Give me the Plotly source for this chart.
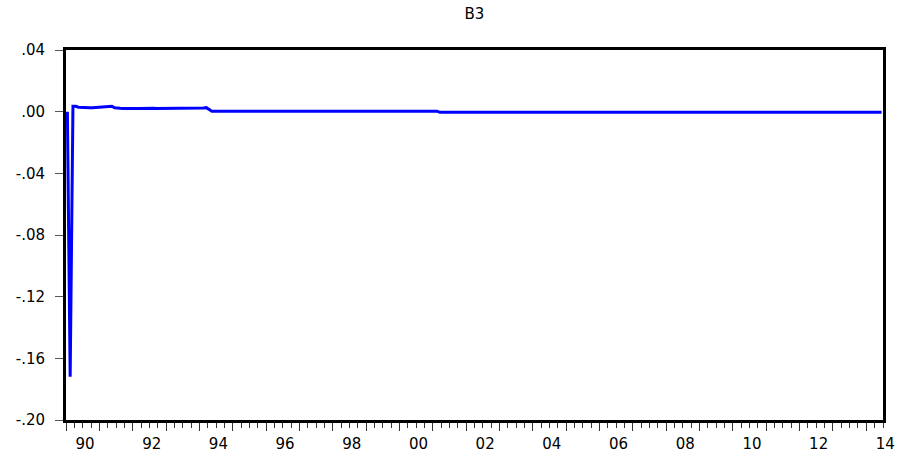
import plotly.graph_objects as go

# Monthly series B3, 1990M01 .. 2014M06
start_year = 1990
head_values = [0.0, -0.172, 0.0035, 0.0035, 0.0029, 0.0027, 0.0026, 0.0027, 0.0026,
               0.0026, 0.0027, 0.0027, 0.0028, 0.0030, 0.0033, 0.0036, 0.0035, 0.0025,
               0.0022]
mid_values = [0.0022, 0.0021, 0.0022, 0.0021, 0.0021, 0.0022, 0.0021, 0.0021, 0.0022,
              0.0021, 0.0021, 0.0021, 0.0022, 0.0021, 0.0021, 0.0021, 0.0022, 0.0021,
              0.0021, 0.0021, 0.0021, 0.0022, 0.0021, 0.0021, 0.0021, 0.0021, 0.0021,
              0.0022, 0.0021, 0.0021, 0.0024, 0.0026, 0.0014]
flat_values = [0.0003] * 82
tail_values = [-0.0004] * 160
values = head_values + mid_values + flat_values + tail_values
dates = [start_year + (i + 0.5) / 12 for i in range(len(values))]

x_tickvals = list(range(1990, 2015))
x_ticktext = [f"{y % 100:02d}" if y % 2 == 0 else "" for y in x_tickvals]
y_tickvals = [0.04, 0.0, -0.04, -0.08, -0.12, -0.16, -0.20]
y_ticktext = [".04", ".00", "-.04", "-.08", "-.12", "-.16", "-.20"]

fig = go.Figure()
fig.add_trace(go.Scatter(x=dates, y=values, mode="lines",
                         line=dict(color="#0000FF", width=3), showlegend=False))

fam = "DejaVu Sans, Liberation Sans, Arial, sans-serif"
font = dict(family=fam, size=15, color="black")
fig.update_layout(
    width=906, height=456,
    margin=dict(l=66, r=23, t=50, b=36, autoexpand=False),
    paper_bgcolor="white", plot_bgcolor="white",
    font=font,
    title=dict(text="B3", x=0.5, xref="paper", y=1 - 14 / 456, yanchor="middle",
               xanchor="center", font=dict(size=15, color="black", family=fam)),
    xaxis=dict(range=[1990, 2014.5], tickmode="array", tickvals=x_tickvals,
               ticktext=x_ticktext, ticks="outside", ticklen=8, tickwidth=1,
               tickcolor="#333333", showgrid=False, zeroline=False, automargin=False,
               showline=True, linecolor="black", linewidth=3, mirror=True,
               ticklabelshift=19, ticklabelstandoff=0,
               minor=dict(dtick=0.25, tick0=1990, ticks="outside", ticklen=5,
                          tickwidth=1, tickcolor="#333333", showgrid=False)),
    yaxis=dict(range=[-0.20, 0.04], tickmode="array", tickvals=y_tickvals,
               ticktext=y_ticktext, ticks="outside", ticklen=8, tickwidth=1,
               tickcolor="#555555", showgrid=False, zeroline=False, automargin=False,
               showline=True, linecolor="black", linewidth=3, mirror=True,
               ticklabelstandoff=7),
)

fig.write_html("out.html", config={"displayModeBar": False},
               post_script="document.body.style.margin='0';document.body.style.overflow='hidden';")
